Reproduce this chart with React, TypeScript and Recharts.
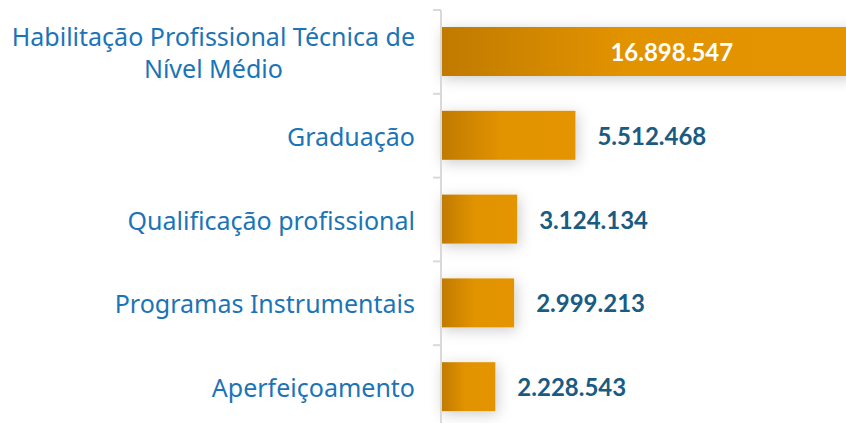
import { BarChart, Bar, XAxis, YAxis, LabelList } from 'recharts'

const categories = [
  'Habilitação Profissional Técnica de\nNível Médio',
  'Graduação',
  'Qualificação profissional',
  'Programas Instrumentais',
  'Aperfeiçoamento',
]
const values = [16898547, 5512468, 3124134, 2999213, 2228543]
const valueLabels = ['16.898.547', '5.512.468', '3.124.134', '2.999.213', '2.228.543']

const data = categories.map((name, i) => ({ name, value: values[i], label: valueLabels[i] }))

const BAND = (440 - 10 - 11) / categories.length
const CAT_FONT = "25px 'Noto Sans'"

let ctx: CanvasRenderingContext2D | null = null
function textWidth(s: string) {
  if (!ctx) ctx = document.createElement('canvas').getContext('2d')
  if (!ctx) return s.length * 12
  ctx.font = CAT_FONT
  return ctx.measureText(s).width
}

function CategoryTick(props: any) {
  const { x, y, payload } = props
  const lines = String(payload.value).split('\n')
  const lh = 32
  const top = y - ((lines.length - 1) * lh) / 2
  const right = x - 18
  const blockW = Math.max(...lines.map(textWidth))
  const cx = right - blockW / 2
  return (
    <g>
      <line x1={x} x2={x + 8} y1={y - BAND / 2} y2={y - BAND / 2} stroke="#d9d9d9" strokeWidth={2} />
      <text
        x={lines.length > 1 ? cx : right}
        y={top}
        textAnchor={lines.length > 1 ? 'middle' : 'end'}
        dominantBaseline="central"
        fill="#1b74b6"
        fontSize={25}
        fontFamily="'Noto Sans', sans-serif"
      >
        {lines.map((l, i) => (
          <tspan key={i} x={lines.length > 1 ? cx : right} y={top + i * lh}>
            {l}
          </tspan>
        ))}
      </text>
    </g>
  )
}

function ValueLabel(props: any) {
  const { x, y, width, height, value } = props
  const inside = width > 300
  return (
    <text
      x={inside ? x + width * 0.56 : x + width + 22}
      y={y + height / 2}
      textAnchor={inside ? 'middle' : 'start'}
      dominantBaseline="central"
      fill={inside ? '#ffffff' : '#1a5b82'}
      fontSize={24}
      fontWeight={700}
      fontFamily="Lato, sans-serif"
    >
      {value}
    </text>
  )
}

function BarShape(props: any) {
  const { x, y, width, height } = props
  return <rect x={x} y={y} width={width} height={height} fill="url(#barGrad)" filter="url(#barShadow)" />
}

export default function App() {
  return (
    <div style={{ position: 'fixed', left: 0, top: 0, width: 846, height: 423, overflow: 'hidden', background: '#fff' }}>
      <BarChart width={880} height={440} data={data} layout="vertical" margin={{ top: 10, right: 0, bottom: 11, left: 0 }}>
        <defs>
          <linearGradient id="barGrad" x1="0" x2="1" y1="0" y2="0">
            <stop offset="0%" stopColor="#c07a00" />
            <stop offset="45%" stopColor="#e29300" />
            <stop offset="100%" stopColor="#e39400" />
          </linearGradient>
          <filter id="barShadow" filterUnits="userSpaceOnUse" x={0} y={0} width={900} height={460}>
            <feDropShadow dx={2} dy={3} stdDeviation={7} floodColor="#000" floodOpacity={0.2} />
          </filter>
        </defs>
        <XAxis type="number" hide domain={[0, 18000000]} />
        <YAxis
          type="category"
          dataKey="name"
          width={441}
          tickLine={false}
          tickSize={8}
          tickMargin={0}
          axisLine={{ stroke: '#d9d9d9', strokeWidth: 2 }}
          tick={<CategoryTick />}
          interval={0}
        />
        <Bar dataKey="value" barSize={49} shape={<BarShape />} isAnimationActive={false}>
          <LabelList dataKey="label" content={<ValueLabel />} />
        </Bar>
      </BarChart>
    </div>
  )
}
